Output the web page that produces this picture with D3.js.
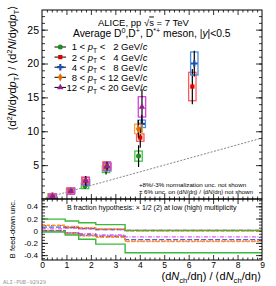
<!DOCTYPE html>
<html><head><meta charset="utf-8">
<script src="https://cdn.jsdelivr.net/npm/d3@7"></script>
<style>body{margin:0;background:#fff}svg{display:block;font-family:"Liberation Sans",Arial,sans-serif}</style>
</head><body><svg id="c" width="276" height="286"></svg>
<script>
// ---------------- data ----------------
const ptLow  = ["1", "2", "4", "8", "12"];
const ptHigh = ["2", "4", "8", "12", "20"];
const seriesNames = ["green", "red", "blue", "orange", "magenta"];

const xGreen   = [0.40, 1.15, 1.76, 2.62, 3.95];
const xRed     = [0.42, 1.17, 1.78, 2.65, 4.02, 6.15];
const xBlue    = [0.44, 1.19, 1.80, 2.67, 4.08, 6.23];
const xOrange  = [0.41, 1.16, 1.77, 2.64, 3.94];
const xMagenta = [0.43, 1.18, 1.79, 2.66, 4.09];

const yGreen   = [0.45, 1.12, 1.95, 4.40, 6.33];
const yRed     = [0.42, 1.18, 2.50, 4.85, 9.07, 16.6];
const yBlue    = [0.43, 1.25, 2.45, 4.70, 11.1, 20.0];
const yOrange  = [0.44, 1.20, 2.80, 4.90, 10.35];
const yMagenta = [0.40, 1.15, 2.70, 4.85, 13.6];

const statGreen   = [0.06, 0.12, 0.45, 0.80, 1.60];
const statRed     = [0.04, 0.10, 0.30, 0.45, 1.50, 2.60];
const statBlue    = [0.04, 0.10, 0.30, 0.45, 1.30, 1.90];
const statOrange  = [0.05, 0.12, 0.35, 0.50, 1.30];
const statMagenta = [0.08, 0.20, 0.70, 0.65, 2.60];

const systGreen   = [0.35, 0.40, 0.42, 0.50, 0.75];
const systRed     = [0.30, 0.40, 0.40, 0.55, 0.55, 2.10];
const systBlue    = [0.30, 0.40, 0.40, 0.55, 0.55, 1.70];
const systOrange  = [0.35, 0.45, 0.45, 0.60, 0.70];
const systMagenta = [0.35, 0.45, 0.50, 0.60, 1.50];

// B feed-down uncertainty (step histograms)
const binEdges = [0, 0.95, 1.5, 2.2, 3.4, 9];
const fdUpGreen    = [0.19, 0.16, 0.13, 0.10, 0.005];
const fdLowGreen   = [-0.02, -0.07, -0.14, -0.22, -0.36];
const fdUpRed      = [0.085, 0.065, 0.045, 0.025, 0.0];
const fdLowRed     = [-0.01, -0.05, -0.08, -0.10, -0.17];
const fdUpBlue     = [0.06, 0.05, 0.035, 0.02, 0.0];
const fdLowBlue    = [0.0, -0.04, -0.07, -0.09, -0.145];
const fdUpOrange   = [0.09, 0.07, 0.05, 0.03, -0.005];
const fdLowOrange  = [-0.01, -0.05, -0.085, -0.11, -0.18];
const fdUpMagenta  = [0.03, 0.045, 0.03, 0.02, 0.01];
const fdLowMagenta = [0.0, -0.03, -0.05, -0.07, -0.10];

const topTicks = [5, 10, 15, 20, 25];
const botTicks = [-0.4, -0.2, 0, 0.2, 0.4];
const xTicks = [0, 1, 2, 3, 4, 5, 6, 7, 8, 9];

// ---------------- style ----------------
const markerCol = {green:"#1e8c1e", red:"#e00000", blue:"#1f4fa8", orange:"#e86a00", magenta:"#8e238e"};
const boxCol    = {green:"#45c445", red:"#ff5a5a", blue:"#4a8fe0", orange:"#ffa030", magenta:"#d840d8"};
const lineCol   = {green:"#3cb83c", red:"#ff3030", blue:"#3a6fe0", orange:"#ff9a10", magenta:"#ee50ee"};
const lineDash  = {green:null, red:"1.5,1.5", blue:"5,2", orange:"3,2", magenta:"4,1.5,1,1.5"};
const symType   = {green:d3.symbolCircle, red:d3.symbolSquare, blue:d3.symbolCross, orange:d3.symbolDiamond, magenta:d3.symbolTriangle};
const symSize   = {green:20, red:18, blue:24, orange:20, magenta:18};

const data = {
  green:  {x:xGreen,   y:yGreen,   s:statGreen,   e:systGreen,   up:fdUpGreen,   lo:fdLowGreen},
  red:    {x:xRed,     y:yRed,     s:statRed,     e:systRed,     up:fdUpRed,     lo:fdLowRed},
  blue:   {x:xBlue,    y:yBlue,    s:statBlue,    e:systBlue,    up:fdUpBlue,    lo:fdLowBlue},
  orange: {x:xOrange,  y:yOrange,  s:statOrange,  e:systOrange,  up:fdUpOrange,  lo:fdLowOrange},
  magenta:{x:xMagenta, y:yMagenta, s:statMagenta, e:systMagenta, up:fdUpMagenta, lo:fdLowMagenta}
};

// ---------------- layout ----------------
const X0 = 42, X1 = 262;
const T0 = 10, T1 = 199;   // top panel
const B0 = 199, B1 = 260;  // bottom panel

const svg = d3.select("#c");
const x = d3.scaleLinear().domain([0, 9]).range([X0, X1]);
const yT = d3.scaleLinear().domain([0, 27.9]).range([T1, T0]);
const yB = d3.scaleLinear().domain([-0.48, 0.52]).range([B1, B0]);

function rich(sel, parts, fs) {
  let cur = 0;
  parts.forEach(p => {
    const ts = sel.append("tspan").text(p.t);
    let shift = 0;
    if (p.sup) { shift = -fs * 0.38; ts.attr("font-size", fs * 0.7); }
    if (p.sub) { shift = fs * 0.3; ts.attr("font-size", fs * 0.7); }
    if (shift - cur !== 0) ts.attr("dy", shift - cur);
    cur = shift;
    if (p.it) ts.attr("font-style", "italic");
    if (p.over) ts.attr("text-decoration", "overline");
  });
  return sel;
}

svg.append("defs").append("clipPath").attr("id", "clipT")
  .append("rect").attr("x", X0).attr("y", T0).attr("width", X1 - X0).attr("height", T1 - T0);
svg.select("defs").append("clipPath").attr("id", "clipB")
  .append("rect").attr("x", X0).attr("y", B0).attr("width", X1 - X0).attr("height", B1 - B0);

function styleAxis(g) {
  g.select(".domain").remove();
  g.selectAll("line").attr("stroke", "#000").attr("stroke-width", 0.8);
}

// ---- top panel axes ----
const minorT = d3.range(1, 28);
svg.append("g").attr("transform", `translate(${X0},0)`)
  .call(d3.axisLeft(yT).tickValues(minorT).tickSizeInner(-3).tickSizeOuter(0).tickFormat(""))
  .call(styleAxis);
svg.append("g").attr("transform", `translate(${X0},0)`)
  .call(d3.axisLeft(yT).tickValues(topTicks).tickSizeInner(-6).tickSizeOuter(0).tickPadding(3))
  .call(styleAxis)
  .call(g => g.selectAll("text").attr("font-size", 10.5).attr("fill", "#000").attr("font-family", "Liberation Sans, Arial, sans-serif"));
svg.append("g").attr("transform", `translate(${X1},0)`)
  .call(d3.axisRight(yT).tickValues(minorT).tickSizeInner(-3).tickSizeOuter(0).tickFormat(""))
  .call(styleAxis);
svg.append("g").attr("transform", `translate(${X1},0)`)
  .call(d3.axisRight(yT).tickValues(topTicks).tickSizeInner(-6).tickSizeOuter(0).tickFormat(""))
  .call(styleAxis);

const minorX = d3.range(0.2, 9, 0.2).filter(v => Math.abs(v - Math.round(v)) > 1e-6);
[[T0, "top"], [T1, "bottom"], [B0, "top"], [B1, "bottom"]].forEach(([yy, side]) => {
  const ax = side === "top" ? d3.axisTop : d3.axisBottom;
  svg.append("g").attr("transform", `translate(0,${yy})`)
    .call(ax(x).tickValues(minorX).tickSizeInner(-2.5).tickSizeOuter(0).tickFormat(""))
    .call(styleAxis);
  svg.append("g").attr("transform", `translate(0,${yy})`)
    .call(ax(x).tickValues(xTicks.slice(1, -1)).tickSizeInner(-5).tickSizeOuter(0).tickFormat(""))
    .call(styleAxis);
});
// x labels at bottom
svg.append("g").attr("transform", `translate(0,${B1})`)
  .call(d3.axisBottom(x).tickValues(xTicks).tickSize(0).tickPadding(2).tickFormat(d3.format("d")))
  .call(styleAxis)
  .call(g => g.selectAll("text").attr("font-size", 8.5).attr("fill", "#000").attr("font-family", "Liberation Sans, Arial, sans-serif"));

// ---- bottom panel y axes ----
const minorB = d3.range(-0.45, 0.51, 0.05);
const fmtB = v => (Math.abs(v) < 1e-9 ? "0" : (v < 0 ? "-" : "") + Math.abs(v).toFixed(1));
svg.append("g").attr("transform", `translate(${X0},0)`)
  .call(d3.axisLeft(yB).tickValues(minorB).tickSizeInner(-3).tickSizeOuter(0).tickFormat(""))
  .call(styleAxis);
svg.append("g").attr("transform", `translate(${X0},0)`)
  .call(d3.axisLeft(yB).tickValues(botTicks).tickSizeInner(-6).tickSizeOuter(0).tickPadding(4).tickFormat(fmtB))
  .call(styleAxis)
  .call(g => g.selectAll("text").attr("font-size", 8).attr("fill", "#000").attr("font-family", "Liberation Sans, Arial, sans-serif"));
svg.append("g").attr("transform", `translate(${X1},0)`)
  .call(d3.axisRight(yB).tickValues(minorB).tickSizeInner(-3).tickSizeOuter(0).tickFormat(""))
  .call(styleAxis);
svg.append("g").attr("transform", `translate(${X1},0)`)
  .call(d3.axisRight(yB).tickValues(botTicks).tickSizeInner(-6).tickSizeOuter(0).tickFormat(""))
  .call(styleAxis);

// ---- y = x reference line ----
svg.append("line").attr("clip-path", "url(#clipT)")
  .attr("x1", x(0)).attr("y1", yT(0)).attr("x2", x(9)).attr("y2", yT(9))
  .attr("stroke", "#777").attr("stroke-width", 0.9).attr("stroke-dasharray", "2,1.5");

// ---- data points ----
const gP = svg.append("g").attr("clip-path", "url(#clipT)");
seriesNames.forEach(name => {
  const d = data[name];
  const pts = d.x.map((xv, i) => ({x: xv, y: d.y[i], s: d.s[i], e: d.e[i]}));
  const g = gP.append("g");
  g.selectAll("rect").data(pts).join("rect")
    .attr("x", p => x(p.x) - 3.7).attr("width", 7.4)
    .attr("y", p => yT(p.y + p.e)).attr("height", p => yT(p.y - p.e) - yT(p.y + p.e))
    .attr("fill", "none").attr("stroke", boxCol[name]).attr("stroke-width", 1.3);
  g.selectAll("line").data(pts).join("line")
    .attr("x1", p => x(p.x)).attr("x2", p => x(p.x))
    .attr("y1", p => yT(p.y + p.s)).attr("y2", p => yT(p.y - p.s))
    .attr("stroke", "#000").attr("stroke-width", 1.2);
  g.selectAll("path").data(pts).join("path")
    .attr("transform", p => `translate(${x(p.x)},${yT(p.y)})`)
    .attr("d", d3.symbol(symType[name], symSize[name]))
    .attr("fill", markerCol[name]);
});

// ---- bottom panel step lines ----
const gB = svg.append("g").attr("clip-path", "url(#clipB)");
function stepPts(vals) {
  const out = [];
  vals.forEach((v, i) => { out.push([binEdges[i], v]); out.push([binEdges[i + 1], v]); });
  return out;
}
const lineGen = d3.line().x(p => x(p[0])).y(p => yB(p[1]));
["magenta", "blue", "red", "orange", "green"].forEach(name => {
  ["up", "lo"].forEach(k => {
    gB.append("path").attr("d", lineGen(stepPts(data[name][k])))
      .attr("fill", "none").attr("stroke", lineCol[name])
      .attr("stroke-width", name === "green" ? 1.4 : 1.3)
      .attr("stroke-dasharray", lineDash[name]);
  });
});

// ---- frames ----
svg.append("rect").attr("x", X0).attr("y", T0).attr("width", X1 - X0).attr("height", T1 - T0)
  .attr("fill", "none").attr("stroke", "#000").attr("stroke-width", 1);
svg.append("rect").attr("x", X0).attr("y", B0).attr("width", X1 - X0).attr("height", B1 - B0)
  .attr("fill", "none").attr("stroke", "#000").attr("stroke-width", 1);

// ---- texts ----
rich(svg.append("text").attr("x", 98).attr("y", 25.5).attr("font-size", 9.5),
  [{t:"ALICE, pp "}, {t:"√"}, {t:"s", over:true}, {t:" = 7 TeV"}], 9.5);
svg.append("text").attr("x", 73).attr("y", 37).attr("font-size", 10.3)
  .call(s => rich(s, [{t:"Average D"}, {t:"0", sup:true}, {t:",D"}, {t:"+", sup:true}, {t:", D"}, {t:"*+", sup:true},
    {t:" meson, |"}, {t:"y", it:true}, {t:"|<0.5"}], 10.3));

// legend
seriesNames.forEach((name, i) => {
  const cy = 47 + i * 10.1;
  svg.append("line").attr("x1", 54.5).attr("x2", 66).attr("y1", cy).attr("y2", cy)
    .attr("stroke", "#000").attr("stroke-width", 1);
  svg.append("path").attr("transform", `translate(60.3,${cy})`)
    .attr("d", d3.symbol(symType[name], symSize[name])).attr("fill", markerCol[name]);
  const fs = 9.5, by = cy + 3.4;
  svg.append("text").attr("x", 77).attr("y", by).attr("font-size", fs).attr("text-anchor", "end").text(ptLow[i]);
  rich(svg.append("text").attr("x", 79.5).attr("y", by).attr("font-size", fs),
    [{t:"< "}, {t:"p", it:true}, {t:"T", sub:true}, {t:" <"}], fs);
  svg.append("text").attr("x", 118.5).attr("y", by).attr("font-size", fs).attr("text-anchor", "end").text(ptHigh[i]);
  rich(svg.append("text").attr("x", 121).attr("y", by).attr("font-size", fs),
    [{t:"GeV/"}, {t:"c", it:true}], fs);
});

// notes
svg.append("text").attr("x", 139).attr("y", 187).attr("font-size", 6.2).text("+8%/-3% normalization unc. not shown");
rich(svg.append("text").attr("x", 139).attr("y", 193.5).attr("font-size", 6.2),
  [{t:"± 6% unc. on (d"}, {t:"N", it:true}, {t:"/dη) / ⟨d"}, {t:"N", it:true}, {t:"/dη⟩ not shown"}], 6.2);
svg.append("text").attr("x", 67).attr("y", 210).attr("font-size", 7)
  .text("B fraction hypothesis: × 1/2 (2) at low (high) multiplicity");

// axis titles
rich(svg.append("text").attr("transform", "translate(16,68) rotate(-90)").attr("text-anchor", "middle").attr("font-size", 11),
  [{t:"(d"}, {t:"2", sup:true}, {t:"N", it:true}, {t:"/d"}, {t:"y", it:true}, {t:"d"}, {t:"p", it:true}, {t:"T", sub:true},
   {t:") / ⟨d"}, {t:"2", sup:true}, {t:"N", it:true}, {t:"/d"}, {t:"y", it:true}, {t:"d"}, {t:"p", it:true}, {t:"T", sub:true}, {t:"⟩"}], 11);
svg.append("text").attr("transform", "translate(15,229) rotate(-90)").attr("text-anchor", "middle")
  .attr("font-size", 7.5).text("B feed-down unc.");
rich(svg.append("text").attr("x", 261).attr("y", 280).attr("text-anchor", "end").attr("font-size", 11),
  [{t:"(d"}, {t:"N", it:true}, {t:"ch", sub:true}, {t:"/dη) / ⟨d"}, {t:"N", it:true}, {t:"ch", sub:true}, {t:"/dη⟩"}], 11);

svg.append("text").attr("x", 3).attr("y", 284).attr("font-size", 5.5).attr("fill", "#999")
  .attr("font-family", "DejaVu Sans Mono, monospace").text("ALI-PUB-92929");
</script></body></html>
